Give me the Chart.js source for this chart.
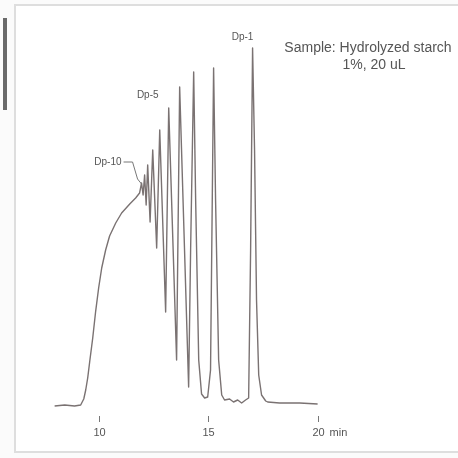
<!DOCTYPE html>
<html>
<head>
<meta charset="utf-8">
<script src="https://cdn.jsdelivr.net/npm/chart.js@4"></script>
<style>
  html, body { margin: 0; padding: 0; background: #fbfbfb; }
  #wrap { position: relative; width: 458px; height: 458px; overflow: hidden; }
  #frame { position: absolute; left: 14px; top: 4px; width: 470px; height: 449px;
           border: 2px solid #dedede; background: #fff; box-sizing: border-box; }
  #bar { position: absolute; left: 3px; top: 18px; width: 4px; height: 92px; background: #6a6a6a; }
  canvas { position: absolute; left: 0; top: 0; }
</style>
</head>
<body>
<div id="wrap">
  <div id="frame"></div>
  <div id="bar"></div>
  <canvas id="chromChart" width="458" height="458"></canvas>
</div>
<script>
// retention time (min) and detector signal
const retTime = [
  7.99, 8.45, 8.90, 9.18, 9.32, 9.41, 9.50, 9.59, 9.73, 9.86,
  10.00, 10.14, 10.32, 10.50, 10.78, 11.05, 11.42, 11.69, 11.87,
  11.96, 12.03, 12.10, 12.17, 12.24, 12.35, 12.47, 12.65, 12.79,
  13.06, 13.20, 13.56, 13.70, 14.11, 14.20, 14.34, 14.43, 14.57,
  14.70, 14.84, 14.98, 15.11, 15.25, 15.34, 15.48, 15.62, 15.75,
  15.98, 16.16, 16.35, 16.53, 16.71, 16.85, 16.94, 17.03, 17.12,
  17.21, 17.31, 17.44, 17.63, 17.72, 18.26, 19.18, 20.00
];
const signal = [
  0, 1, 0, 1, 7, 16, 28, 44, 68, 94,
  118, 138, 156, 170, 183, 193, 202, 208, 213,
  223, 211, 231, 201, 241, 184, 256, 158, 276,
  94, 298, 46, 319, 19, 156, 334, 206, 46,
  12, 8, 9, 36, 338, 206, 46, 11, 6,
  7, 4, 6, 3, 6, 8, 156, 358, 256,
  106, 31, 11, 5, 4, 3, 3, 2
];

const peakNames = ["Dp-1", "Dp-5", "Dp-10"];
const peakTimes = [17.03, 13.20, 11.96];
const peakHeights = [358, 298, 223];

const tickValues = [10, 15, 20];
const tickLabels = ["10", "15", "20"];
const sampleText = ["Sample: Hydrolyzed starch", "1%, 20 uL"];

const points = retTime.map((t, i) => ({ x: t, y: signal[i] }));

const labelsPlugin = {
  id: "labelsPlugin",
  afterDraw(chart) {
    const ctx = chart.ctx;
    const xs = chart.scales.x;
    const ys = chart.scales.y;
    const area = chart.chartArea;
    ctx.save();
    ctx.fillStyle = "#555";
    ctx.strokeStyle = "#777";
    ctx.lineWidth = 1;
    ctx.textBaseline = "middle";
    ctx.font = "10px 'Liberation Sans', Arial, sans-serif";
    ctx.textAlign = "center";

    // Dp-1
    let px = xs.getPixelForValue(peakTimes[0]);
    let py = ys.getPixelForValue(peakHeights[0]);
    ctx.fillText(peakNames[0], px - 10, py - 11);

    // Dp-5
    px = xs.getPixelForValue(peakTimes[1]);
    py = ys.getPixelForValue(peakHeights[1]);
    ctx.fillText(peakNames[1], px - 21, py - 13);

    // Dp-10 with leader line
    px = xs.getPixelForValue(peakTimes[2]);
    py = ys.getPixelForValue(peakHeights[2]);
    ctx.textAlign = "right";
    ctx.fillText(peakNames[2], px - 20, py - 21);
    ctx.beginPath();
    ctx.moveTo(px - 18, py - 21);
    ctx.lineTo(px - 9, py - 21);
    ctx.lineTo(px - 4, py - 4);
    ctx.lineTo(px, py + 1);
    ctx.stroke();

    // sample note
    ctx.textAlign = "center";
    ctx.font = "14px 'Liberation Sans', Arial, sans-serif";
    ctx.fillText(sampleText[0], 368, 48);
    ctx.fillText(sampleText[1], 374, 65);

    // x ticks and labels
    ctx.font = "11px 'Liberation Sans', Arial, sans-serif";
    const ty = area.bottom + 2;
    tickValues.forEach((v, i) => {
      const tx = Math.round(xs.getPixelForValue(v)) + 0.5;
      ctx.beginPath();
      ctx.moveTo(tx, ty);
      ctx.lineTo(tx, ty + 6);
      ctx.stroke();
      ctx.textAlign = "center";
      ctx.fillText(tickLabels[i], tx, ty + 17);
    });
    ctx.textAlign = "left";
    ctx.fillText("min", xs.getPixelForValue(20) + 12, ty + 17);
    ctx.restore();
  }
};

new Chart(document.getElementById("chromChart"), {
  type: "line",
  data: {
    datasets: [
      {
        data: points,
        borderColor: "#7a7272",
        borderWidth: 1.4,
        pointRadius: 0,
        tension: 0,
        borderJoinStyle: "round",
        fill: false,
      },
    ],
  },
  options: {
    responsive: false,
    animation: false,
    layout: { padding: { left: 22, right: 9, top: 26, bottom: 44 } },
    plugins: { legend: { display: false }, tooltip: { enabled: false } },
    scales: {
      x: {
        type: "linear",
        display: false,
        min: 6.5,
        max: 26,
      },
      y: {
        display: false,
        min: -8,
        max: 380,
      },
    },
  },
  plugins: [labelsPlugin],
});
</script>
</body>
</html>
